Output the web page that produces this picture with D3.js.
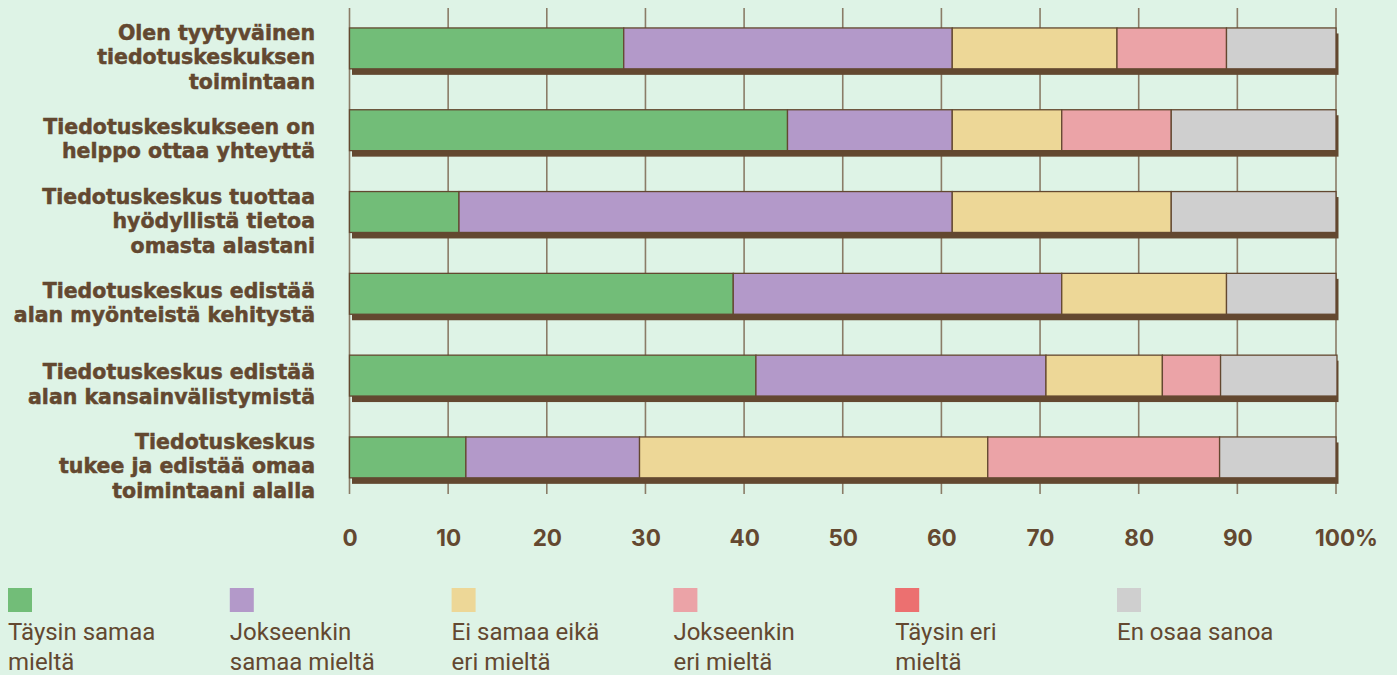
<!DOCTYPE html>
<html>
<head>
<meta charset="utf-8">
<script src="https://cdn.jsdelivr.net/npm/d3@7"></script>
<style>
  html, body { margin: 0; padding: 0; background: #def3e6; }
  svg { display: block; }
</style>
</head>
<body>
<svg id="chart" width="1397" height="675"></svg>
<script>
(function () {

    // statements, one per bar (line breaks as in the picture)
    var statements = [
        ["Olen tyytyväinen", "tiedotuskeskuksen", "toimintaan"],
        ["Tiedotuskeskukseen on", "helppo ottaa yhteyttä"],
        ["Tiedotuskeskus tuottaa", "hyödyllistä tietoa", "omasta alastani"],
        ["Tiedotuskeskus edistää", "alan myönteistä kehitystä"],
        ["Tiedotuskeskus edistää", "alan kansainvälistymistä"],
        ["Tiedotuskeskus", "tukee ja edistää omaa", "toimintaani alalla"]
    ];

    var answers = ["Täysin samaa mieltä", "Jokseenkin samaa mieltä", "Ei samaa eikä eri mieltä",
                   "Jokseenkin eri mieltä", "Täysin eri mieltä", "En osaa sanoa"];
    var legendLines = [
        ["Täysin samaa", "mieltä"],
        ["Jokseenkin", "samaa mieltä"],
        ["Ei samaa eikä", "eri mieltä"],
        ["Jokseenkin", "eri mieltä"],
        ["Täysin eri", "mieltä"],
        ["En osaa sanoa"]
    ];

    // shares in %, per answer, one value per statement
    var taysinSamaa     = [27.8, 44.4, 11.1, 38.9, 41.2, 11.8];
    var jokseenkinSamaa = [33.3, 16.7, 50.0, 33.3, 29.4, 17.6];
    var eiSamaaEiEri    = [16.7, 11.1, 22.2, 16.7, 11.8, 35.3];
    var jokseenkinEri   = [11.1, 11.1, 0, 0, 5.9, 23.5];
    var taysinEri       = [0, 0, 0, 0, 0, 0];
    var enOsaa          = [11.1, 16.7, 16.7, 11.1, 11.8, 11.8];

    var xTicks = [0, 10, 20, 30, 40, 50, 60, 70, 80, 90, 100];

    var colors = ["#72bd78", "#b399c9", "#edd797", "#eba3a7", "#ec7070", "#cfcfcf"];
    var brown = "#634830";

    var series = [taysinSamaa, jokseenkinSamaa, eiSamaaEiEri, jokseenkinEri, taysinEri, enOsaa];
    var rows = statements.map(function (s, i) {
        var r = { i: i };
        answers.forEach(function (a, k) { r[a] = series[k][i]; });
        return r;
    });
    var stacked = d3.stack().keys(answers)(rows);

    var svg = d3.select("#chart");

    var x = d3.scaleLinear().domain([0, 100]).range([349.5, 1336]);
    var y = d3.scaleBand().domain(d3.range(statements.length))
        .range([7.5, 498.3]).paddingInner(0.5).paddingOuter(0.25);

    // grid lines
    svg.append("g")
        .selectAll("line")
        .data(xTicks)
        .join("line")
            .attr("x1", function (d) { return x(d); })
            .attr("x2", function (d) { return x(d); })
            .attr("y1", 8)
            .attr("y2", 494)
            .attr("stroke", "#8a7c67")
            .attr("stroke-width", 1.6);

    // shadows
    svg.append("g")
        .selectAll("rect")
        .data(rows)
        .join("rect")
            .attr("x", x(0) + 2.5)
            .attr("y", function (d) { return y(d.i) + 5.5; })
            .attr("width", x(100) - x(0))
            .attr("height", y.bandwidth() + 0.5)
            .attr("fill", brown);

    // stacked bars
    svg.append("g")
        .selectAll("g")
        .data(stacked)
        .join("g")
            .attr("fill", function (d, k) { return colors[k]; })
        .selectAll("rect")
        .data(function (d) { return d.filter(function (p) { return p[1] - p[0] > 0; }); })
        .join("rect")
            .attr("x", function (p) { return x(p[0]); })
            .attr("y", function (p) { return y(p.data.i); })
            .attr("width", function (p) { return x(p[1]) - x(p[0]); })
            .attr("height", y.bandwidth())
            .attr("stroke", brown)
            .attr("stroke-width", 1.3);

    // category labels
    var labels = svg.append("g")
        .attr("font-family", "'DejaVu Sans', sans-serif")
        .attr("font-weight", 700)
        .attr("font-size", 20.5)
        .attr("fill", brown)
        .attr("stroke", brown)
        .attr("stroke-width", 0.5)
        .attr("text-anchor", "end");

    labels.selectAll("text")
        .data(statements)
        .join("text")
            .attr("transform", function (d, i) {
                var c = y(i) + y.bandwidth() / 2 + 16;
                return "translate(315," + (c - (d.length - 1) * 24.5 / 2) + ")";
            })
            .selectAll("tspan")
            .data(function (d) { return d; })
            .join("tspan")
                .attr("x", 0)
                .attr("y", function (d, j) { return j * 24.5; })
                .text(function (d) { return d; });

    // x axis labels
    var axis = svg.append("g")
        .attr("transform", "translate(0,546)")
        .call(d3.axisBottom(x).tickValues(xTicks).tickSize(0)
            .tickFormat(function (d) { return d === 100 ? "100%" : d; }));
    axis.select(".domain").remove();
    axis.selectAll("text")
        .attr("y", 0)
        .attr("dy", 0)
        .attr("dx", function (d) { return d === 100 ? 10 : 0; })
        .attr("font-family", "Inter, sans-serif")
        .attr("font-weight", 700)
        .attr("font-size", 22.5)
        .attr("fill", brown);

    // legend
    var legend = svg.append("g")
        .selectAll("g")
        .data(answers)
        .join("g")
            .attr("transform", function (d, k) { return "translate(" + (8 + k * 221.8) + ",588)"; });

    legend.append("rect")
        .attr("width", 24)
        .attr("height", 24)
        .attr("fill", function (d, k) { return colors[k]; });

    legend.append("text")
        .attr("font-family", "Roboto, sans-serif")
        .attr("font-size", 24)
        .attr("fill", brown)
        .selectAll("tspan")
        .data(function (d, k) { return legendLines[k]; })
        .join("tspan")
            .attr("x", 0)
            .attr("y", function (d, j) { return 52 + j * 29.5; })
            .text(function (d) { return d; });

}());
</script>
</body>
</html>
